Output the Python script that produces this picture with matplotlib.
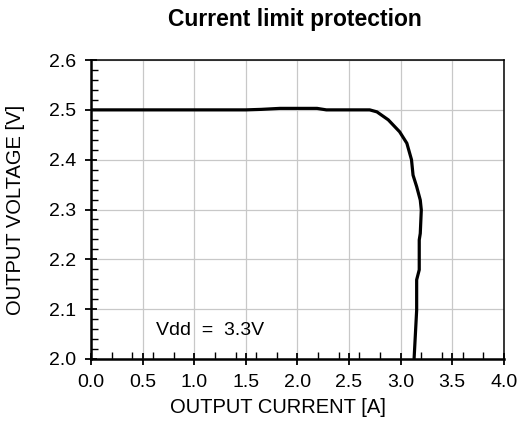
import matplotlib.pyplot as plt
from matplotlib.ticker import MultipleLocator

plt.rcParams['font.family'] = ['Liberation Sans', 'DejaVu Sans']

# output current [A] and voltage [V]
current = [0.0, 0.5, 1.0, 1.5, 1.65, 1.83, 2.0, 2.19, 2.28, 2.5, 2.70, 2.77,
           2.88, 2.99, 3.06, 3.105, 3.12, 3.155, 3.19, 3.20, 3.19, 3.18,
           3.18, 3.155, 3.155, 3.13]
voltage = [2.5, 2.5, 2.5, 2.5, 2.501, 2.503, 2.503, 2.503, 2.5, 2.5, 2.5, 2.496,
           2.48, 2.456, 2.433, 2.40, 2.369, 2.346, 2.319, 2.299, 2.252, 2.239,
           2.179, 2.159, 2.098, 2.0]

fig = plt.figure(figsize=(5.2, 4.32), dpi=100)
ax = fig.add_axes([0.175, 0.169, 0.794, 0.692])

ax.plot(current, voltage, color='black', lw=2.3, solid_capstyle='butt')

ax.set_xlim(0, 4.0)
ax.set_ylim(2.0, 2.6)
ax.xaxis.set_major_locator(MultipleLocator(0.5))
ax.xaxis.set_minor_locator(MultipleLocator(0.2))
ax.yaxis.set_major_locator(MultipleLocator(0.1))
ax.yaxis.set_minor_locator(MultipleLocator(0.02))
ax.xaxis.set_major_formatter('{x:.1f}')
ax.yaxis.set_major_formatter('{x:.1f}')
ax.grid(True, which='major', color='#c8c8c8', lw=0.9)
ax.set_axisbelow(True)

ax.tick_params(which='major', direction='inout', length=9, width=1.3,
               labelsize=14, pad=6)
ax.tick_params(which='minor', direction='in', length=5, width=1.0)
for side in ('left', 'bottom'):
    ax.spines[side].set_linewidth(1.8)
for side in ('top', 'right'):
    ax.spines[side].set_linewidth(1.1)

ax.text(0.63, 2.058, 'Vdd  =  3.3V', fontsize=14, va='center')

fig.text(0.567, 0.956, 'Current limit protection', ha='center', va='center',
         fontsize=16.5, fontweight='bold')
fig.text(0.534, 0.056, 'OUTPUT CURRENT [A]', ha='center', va='center', fontsize=14.5)
fig.text(0.029, 0.515, 'OUTPUT VOLTAGE [V]', ha='center', va='center',
         rotation=90, fontsize=14.5)

fig.savefig('out.png', dpi=100)
